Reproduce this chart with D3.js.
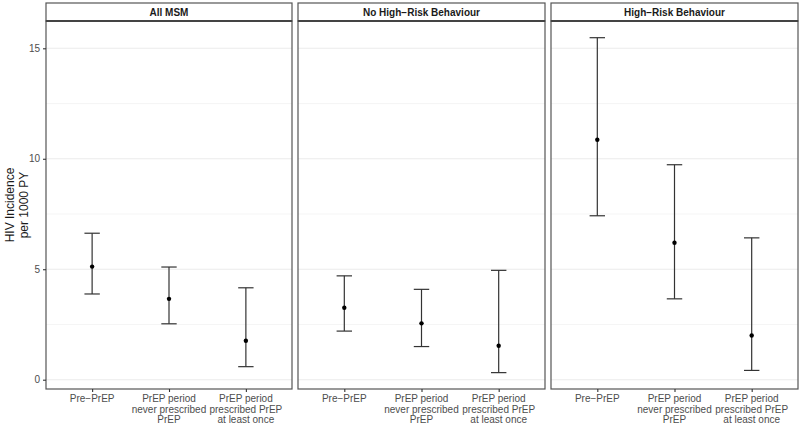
<!DOCTYPE html>
<html><head><meta charset="utf-8">
<script src="https://cdn.jsdelivr.net/npm/d3@7"></script>
<style>body{margin:0;background:#fff}svg{display:block}</style>
</head><body>
<svg id="c" width="800" height="424"></svg>
<script>
const panels = ["All MSM", "No High\u2212Risk Behaviour", "High\u2212Risk Behaviour"];
const categories = ["Pre\u2212PrEP", "PrEP period\nnever prescribed\nPrEP", "PrEP period\nprescribed PrEP\nat least once"];
const estimates = [[5.12, 3.66, 1.76], [3.26, 2.55, 1.54], [10.86, 6.2, 2.0]];
const lowers = [[3.88, 2.53, 0.59], [2.2, 1.5, 0.32], [7.42, 3.66, 0.42]];
const uppers = [[6.63, 5.1, 4.16], [4.7, 4.09, 4.95], [15.48, 9.73, 6.42]];
const yTicks = [0, 5, 10, 15];
const yMinor = [2.5, 7.5, 12.5];

const svg = d3.select("#c");
const font = "Liberation Sans, Arial, sans-serif";
const panelX = [[46, 292], [298, 545], [551, 798]];
const pTop = 21, pBottom = 389, stripTop = 3;
const y = d3.scaleLinear().domain([0, 15]).range([379.7, 48.3]);

panelX.forEach((px, i) => {
  const g = svg.append("g");
  const x = d3.scalePoint().domain(categories).range(px).padding(0.6);
  const step = x.step();
  yMinor.forEach(v => g.append("line").attr("x1", px[0]).attr("x2", px[1]).attr("y1", y(v)).attr("y2", y(v)).attr("stroke", "#f2f2f2").attr("stroke-width", 0.8));
  yTicks.forEach(v => g.append("line").attr("x1", px[0]).attr("x2", px[1]).attr("y1", y(v)).attr("y2", y(v)).attr("stroke", "#ebebeb").attr("stroke-width", 1.1));
  categories.forEach((c, j) => {
    const cx = x(c), hw = step * 0.1;
    g.append("line").attr("x1", cx).attr("x2", cx).attr("y1", y(lowers[i][j])).attr("y2", y(uppers[i][j])).attr("stroke", "#333").attr("stroke-width", 1.2);
    [lowers[i][j], uppers[i][j]].forEach(v => g.append("line").attr("x1", cx - hw).attr("x2", cx + hw).attr("y1", y(v)).attr("y2", y(v)).attr("stroke", "#333").attr("stroke-width", 1.2));
    g.append("circle").attr("cx", cx).attr("cy", y(estimates[i][j])).attr("r", 2.2).attr("fill", "#000");
  });
  g.append("rect").attr("x", px[0]).attr("y", pTop).attr("width", px[1] - px[0]).attr("height", pBottom - pTop).attr("fill", "none").attr("stroke", "#555").attr("stroke-width", 1.2);
  g.append("rect").attr("x", px[0]).attr("y", stripTop).attr("width", px[1] - px[0]).attr("height", pTop - stripTop).attr("fill", "#fff").attr("stroke", "#555").attr("stroke-width", 1.2);
  g.append("line").attr("x1", px[0]).attr("x2", px[1]).attr("y1", pTop).attr("y2", pTop).attr("stroke", "#444").attr("stroke-width", 1.8);
  g.append("text").attr("x", (px[0] + px[1]) / 2).attr("y", pTop - 5.5).attr("text-anchor", "middle").attr("font-family", font).attr("font-size", 10).attr("font-weight", "bold").attr("fill", "#1a1a1a").text(panels[i]);
  const xa = g.append("g").attr("transform", `translate(0,${pBottom})`).call(d3.axisBottom(x).tickSize(3).tickFormat(""));
  xa.select(".domain").remove();
  xa.selectAll(".tick line").attr("stroke", "#333").attr("stroke-width", 1.1);
  categories.forEach(c => {
    const lines = c.split("\n");
    const t = g.append("text").attr("x", x(c)).attr("y", pBottom + 13).attr("text-anchor", "middle").attr("font-family", font).attr("font-size", 10).attr("fill", "#4d4d4d");
    lines.forEach((l, k) => t.append("tspan").attr("x", x(c)).attr("dy", k === 0 ? 0 : 10.5).text(l));
  });
  if (i === 0) {
    const ya = g.append("g").attr("transform", `translate(${px[0]},0)`).call(d3.axisLeft(y).tickValues(yTicks).tickSize(3).tickPadding(3));
    ya.select(".domain").remove();
    ya.selectAll(".tick line").attr("stroke", "#333").attr("stroke-width", 1.1);
    ya.selectAll(".tick text").attr("font-family", font).attr("font-size", 10).attr("fill", "#4d4d4d");
  }
});
const yt = svg.append("text").attr("transform", `translate(14,${(pTop + pBottom) / 2}) rotate(-90)`).attr("text-anchor", "middle").attr("font-family", font).attr("font-size", 12).attr("fill", "#1a1a1a");
yt.append("tspan").attr("x", 0).attr("dy", 0).text("HIV Incidence");
yt.append("tspan").attr("x", 0).attr("dy", 13.5).text("per 1000 PY");
</script>
</body></html>
